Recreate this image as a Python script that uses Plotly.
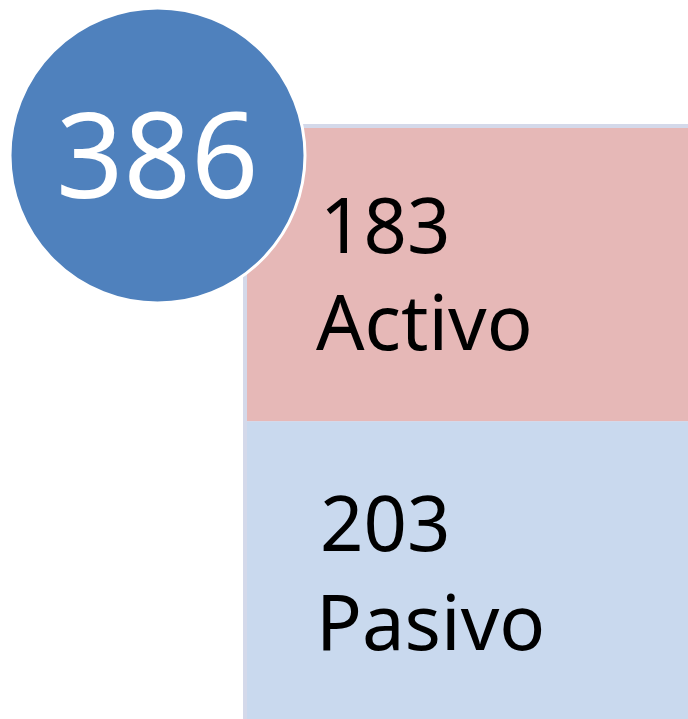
import plotly.graph_objects as go

# ---- data ----
categories = ["Activo", "Pasivo"]
values = [183, 203]
total = sum(values)  # 386
box_colors = ["#e6b8b7", "#c9d9ee"]

# ---- layout constants (pixels) ----
W, H = 688, 719
FONT = "Noto Sans"

fig = go.Figure()
fig.add_trace(go.Scatter(x=[0, W], y=[0, H], mode="markers",
                         marker=dict(opacity=0), hoverinfo="skip", showlegend=False))

shapes = []
# outer border of the panel
shapes.append(dict(type="rect", xref="x", yref="y", x0=243, x1=W + 10, y0=124, y1=H + 10,
                   fillcolor="#d4d9ea", line=dict(width=0), layer="below"))
seg_tops = [128, 422]
seg_bots = [421, H + 10]
for i, cat in enumerate(categories):
    shapes.append(dict(type="rect", xref="x", yref="y", x0=247, x1=W + 10,
                       y0=seg_tops[i], y1=seg_bots[i],
                       fillcolor=box_colors[i], line=dict(width=0), layer="below"))
# circle with total
shapes.append(dict(type="circle", xref="x", yref="y", x0=10, x1=305, y0=8, y1=303,
                   fillcolor="#4f81bd", line=dict(color="white", width=3), layer="above"))

annotations = []
num_y = [223.5, 521.5]
lab_y = [320, 620]
for i, cat in enumerate(categories):
    annotations.append(dict(x=318, y=num_y[i], xref="x", yref="y", text=str(values[i]),
                            showarrow=False, xanchor="left", yanchor="middle",
                            font=dict(family=FONT, size=76, color="black")))
    annotations.append(dict(x=314, y=lab_y[i], xref="x", yref="y", text=cat,
                            showarrow=False, xanchor="left", yanchor="middle",
                            font=dict(family=FONT, size=76, color="black")))
annotations.append(dict(x=157, y=152, xref="x", yref="y", text=str(total),
                        showarrow=False, xanchor="center", yanchor="middle",
                        font=dict(family=FONT, size=118, color="white")))

fig.update_layout(
    width=W, height=H, margin=dict(l=0, r=0, t=0, b=0),
    paper_bgcolor="white", plot_bgcolor="white",
    xaxis=dict(range=[0, W], visible=False, fixedrange=True),
    yaxis=dict(range=[H, 0], visible=False, fixedrange=True),
    shapes=shapes, annotations=annotations, showlegend=False,
)
fig.write_html("out.html", config={"displayModeBar": False},
               post_script="document.body.style.margin='0';document.body.style.overflow='hidden';")
